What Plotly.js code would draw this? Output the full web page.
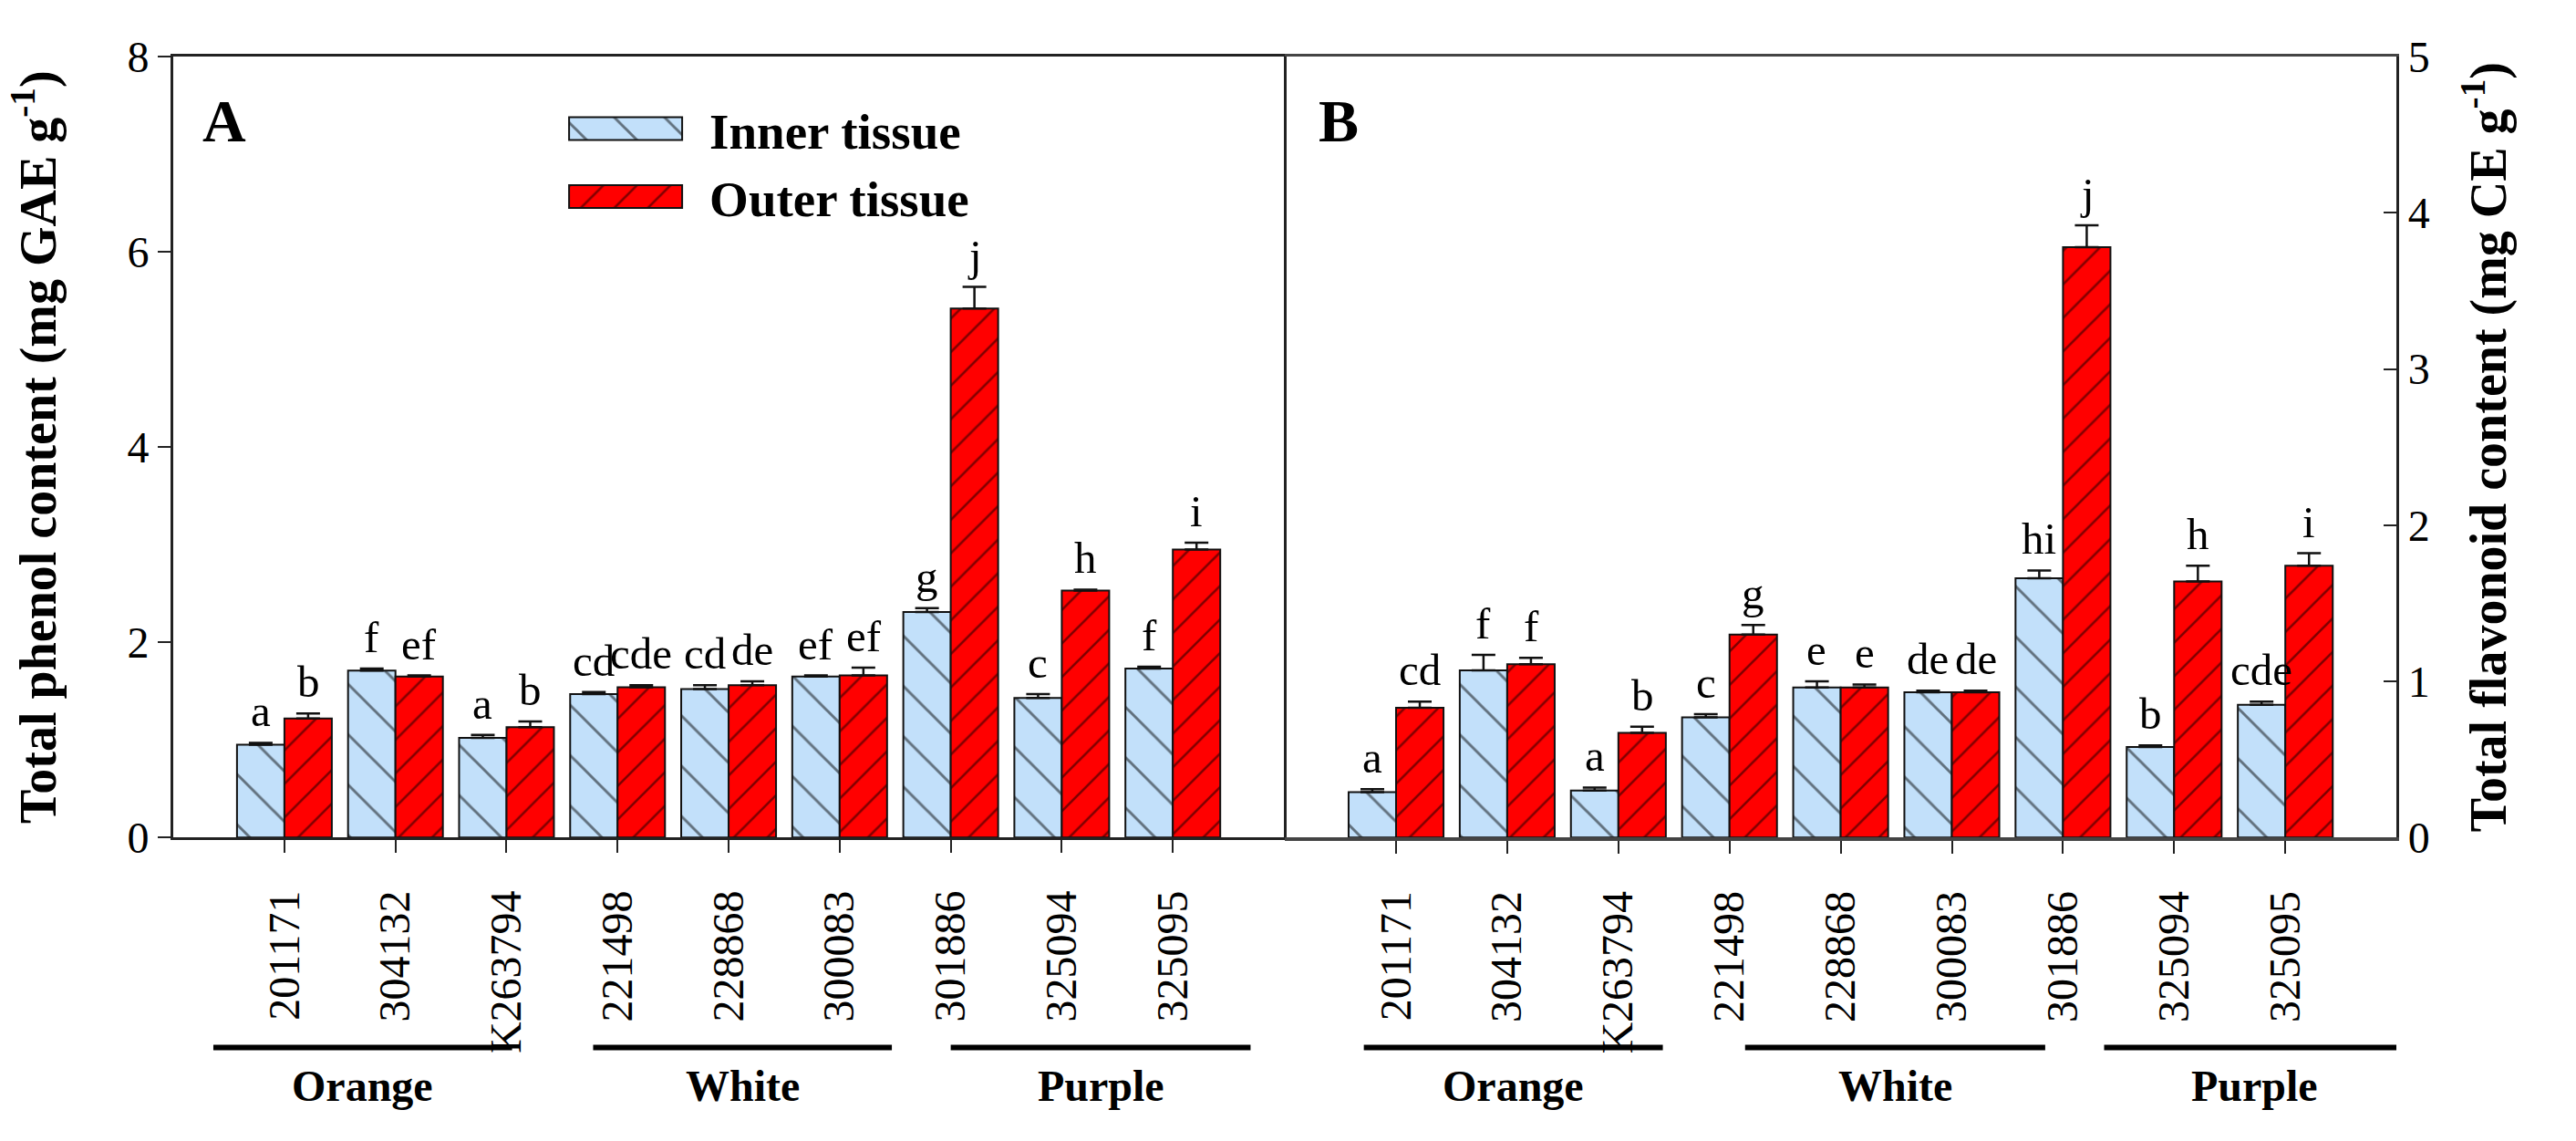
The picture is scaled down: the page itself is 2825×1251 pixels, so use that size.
<!DOCTYPE html>
<html><head><meta charset="utf-8">
<script src="https://cdn.plot.ly/plotly-3.0.1.min.js"></script>
<style>html,body{margin:0;padding:0;background:#fff;} #chart{width:2825px;height:1251px;}</style>
</head><body><div id="chart"></div>
<script>
// ---------------- data ----------------
const categories = ['201171','304132','K263794','221498','228868','300083','301886','325094','325095'];
const seriesNames = ['Inner tissue','Outer tissue'];
const groupNames = ['Orange','White','Purple'];

const phenolInner      = [0.95,1.71,1.02,1.47,1.52,1.65,2.31,1.43,1.73];
const phenolInnerErr   = [0.02,0.02,0.03,0.02,0.04,0.01,0.04,0.04,0.02];
const phenolOuter      = [1.22,1.65,1.13,1.54,1.56,1.66,5.42,2.53,2.95];
const phenolOuterErr   = [0.05,0.01,0.06,0.02,0.04,0.08,0.22,0.01,0.07];
const phenolInnerLetters = ['a','f','a','cd','cd','ef','g','c','f'];
const phenolOuterLetters = ['b','ef','b','cde','de','ef','j','h','i'];

const flavInner        = [0.29,1.07,0.30,0.77,0.96,0.93,1.66,0.58,0.85];
const flavInnerErr     = [0.02,0.10,0.02,0.02,0.04,0.01,0.05,0.01,0.02];
const flavOuter        = [0.83,1.11,0.67,1.30,0.96,0.93,3.78,1.64,1.74];
const flavOuterErr     = [0.04,0.04,0.04,0.06,0.02,0.01,0.14,0.10,0.08];
const flavInnerLetters = ['a','f','a','c','e','de','hi','b','cde'];
const flavOuterLetters = ['cd','f','b','g','e','de','j','h','i'];

// ---------------- style ----------------
const SERIF = 'Liberation Serif, Times New Roman, serif';
const INNER_COLOR = '#C2E0FA';
const OUTER_COLOR = '#FF0000';
const zeros = categories.map(() => 0);

function barTrace(vals, errs, idx, xa, ya, showlegend) {
  const inner = idx === 0;
  return {
    type: 'bar', x: categories, y: vals, name: seriesNames[idx],
    xaxis: xa, yaxis: ya, showlegend: showlegend, legendgroup: seriesNames[idx],
    marker: {
      color: inner ? INNER_COLOR : OUTER_COLOR,
      line: {color: '#111', width: 2},
      pattern: {shape: inner ? '\\' : '/', fgcolor: '#000', fillmode: 'overlay',
                size: inner ? 39 : 26, solidity: inner ? 0.075 : 0.1}
    },
    error_y: {type: 'data', array: errs, arrayminus: zeros, symmetric: false,
              color: '#111', thickness: 2.5, width: 13, visible: true},
    hoverinfo: 'skip'
  };
}

const data = [
  barTrace(phenolInner, phenolInnerErr, 0, 'x', 'y', true),
  barTrace(phenolOuter, phenolOuterErr, 1, 'x', 'y', true),
  barTrace(flavInner, flavInnerErr, 0, 'x2', 'y2', false),
  barTrace(flavOuter, flavOuterErr, 1, 'x2', 'y2', false)
];

const OFF = 0.215; // half group offset in category units
const annotations = [];
function addLetters(vals, errs, letters, sign, xref, yref) {
  letters.forEach((t, i) => {
    annotations.push({text: t, x: i + sign * OFF, y: vals[i] + errs[i], xref: xref, yref: yref,
      xanchor: 'center', yanchor: 'bottom', yshift: 5, showarrow: false,
      font: {family: SERIF, size: 49, color: '#000'}});
  });
}
addLetters(phenolInner, phenolInnerErr, phenolInnerLetters, -1, 'x', 'y');
addLetters(phenolOuter, phenolOuterErr, phenolOuterLetters, 1, 'x', 'y');
addLetters(flavInner, flavInnerErr, flavInnerLetters, -1, 'x2', 'y2');
addLetters(flavOuter, flavOuterErr, flavOuterLetters, 1, 'x2', 'y2');

// panel letters
annotations.push({text: 'A', xref: 'paper', yref: 'paper', x: 0.078, y: 0.925, xanchor: 'left', yanchor: 'top',
  showarrow: false, font: {family: SERIF, size: 66, color: '#000', weight: 'bold'}});
annotations.push({text: 'B', xref: 'paper', yref: 'paper', x: 0.511, y: 0.925, xanchor: 'left', yanchor: 'top',
  showarrow: false, font: {family: SERIF, size: 66, color: '#000', weight: 'bold'}});

// group brackets under the category labels (positions in category units)
const groupSpansA = [[-0.64, 2.05], [2.78, 5.47], [6.0, 8.7]];
const groupSpansB = [[-0.29, 2.4], [3.14, 5.84], [6.37, 9.08]];
const shapes = [];
function addGroups(spans, xref) {
  spans.forEach((s, g) => {
    shapes.push({type: 'line', xref: xref, yref: 'paper', x0: s[0], x1: s[1], y0: 0.082, y1: 0.082,
      line: {color: '#000', width: 6}});
    annotations.push({text: groupNames[g], xref: xref, yref: 'paper', x: (s[0] + s[1]) / 2, y: 0.071,
      xanchor: 'center', yanchor: 'top', showarrow: false,
      font: {family: SERIF, size: 48, color: '#000', weight: 'bold'}});
  });
}
addGroups(groupSpansA, 'x');
addGroups(groupSpansB, 'x2');

const tickFont = {family: SERIF, size: 48, color: '#000'};
const xCommon = {
  type: 'category', range: [-1, 9], showline: true, linewidth: 3, linecolor: '#222',
  ticks: 'outside', ticklen: 14, tickwidth: 2, tickcolor: '#222', tickangle: -90,
  tickfont: tickFont, mirror: true, showgrid: false, zeroline: false, ticklabelstandoff: 22
};

const layout = {
  width: 2825, height: 1251,
  margin: {l: 0, r: 0, t: 0, b: 0},
  paper_bgcolor: '#fff', plot_bgcolor: 'rgba(0,0,0,0)',
  barmode: 'group', bargap: 0.146, bargroupgap: 0,
  showlegend: true,
  legend: {x: 0.2103, y: 0.921, xanchor: 'left', yanchor: 'top', bgcolor: 'rgba(0,0,0,0)',
    font: {family: SERIF, size: 55, color: '#000', weight: 'bold'}, itemwidth: 174,
    tracegroupgap: 0, itemclick: false, itemdoubleclick: false},
  xaxis: Object.assign({}, xCommon, {domain: [0.0673, 0.4984], anchor: 'y'}),
  xaxis2: Object.assign({}, xCommon, {domain: [0.4988, 0.9303], anchor: 'y2', linecolor: '#444', linewidth: 3.5}),
  yaxis: {domain: [0.266, 0.9504], anchor: 'x', range: [0, 8], tickvals: [0, 2, 4, 6, 8],
    showline: true, linewidth: 3, linecolor: '#222', mirror: true, ticks: 'outside', ticklen: 14,
    tickwidth: 2, tickcolor: '#222', tickfont: tickFont, showgrid: false, zeroline: false,
    title: {text: 'Total phenol content (mg GAE g<sup>-1</sup>)', standoff: 60,
      font: {family: SERIF, size: 56, color: '#000', weight: 'bold'}}},
  yaxis2: {domain: [0.266, 0.9504], anchor: 'x2', side: 'right', range: [0, 5], tickvals: [0, 1, 2, 3, 4, 5],
    showline: true, linewidth: 3, linecolor: '#222', mirror: false, ticks: 'inside', ticklen: 14,
    tickwidth: 2, tickcolor: '#222', tickfont: tickFont, showgrid: false, zeroline: false,
    title: {text: 'Total flavonoid content (mg CE g<sup>-1</sup>)', standoff: 46,
      font: {family: SERIF, size: 56, color: '#000', weight: 'bold'}}},
  annotations: annotations,
  shapes: shapes
};

Plotly.newPlot('chart', data, layout, {staticPlot: true, displayModeBar: false}).then(function () {
  // wide legend swatches, filled with the same hatch pattern as the bars
  const barFills = [];
  document.querySelectorAll('.barlayer .trace').forEach(function (tr) {
    const p = tr.querySelector('path');
    if (p) barFills.push(p.style.fill);
  });
  document.querySelectorAll('.legend .traces').forEach(function (tr, k) {
    const p = tr.querySelector('.legendpoints path');
    if (!p) return;
    p.setAttribute('d', 'M62,12.5H-62V-12.5H62Z');
    if (barFills[k]) p.style.fill = barFills[k];
  });
});
</script>
</body></html>
